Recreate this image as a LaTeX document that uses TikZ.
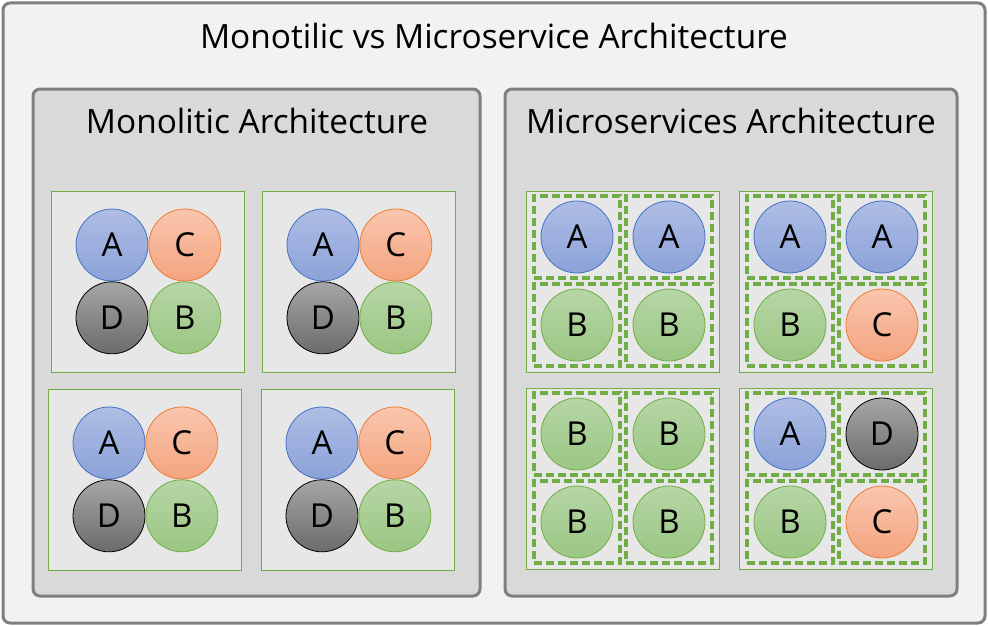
\documentclass[tikz,border=0pt]{standalone}
\usepackage{fontspec}
\setmainfont{Open Sans}
\usetikzlibrary{positioning}

\definecolor{framegray}{HTML}{7F7F7F}
\definecolor{outerfill}{HTML}{F2F2F2}
\definecolor{panelfill}{HTML}{D9D9D9}
\definecolor{hostfill}{HTML}{E7E7E7}
\definecolor{hostgreen}{HTML}{70AD47}
\definecolor{svcAline}{HTML}{4472C4}
\definecolor{svcAtop}{HTML}{AEBDE4}
\definecolor{svcAbot}{HTML}{8BA2D8}
\definecolor{svcBline}{HTML}{70AD47}
\definecolor{svcBtop}{HTML}{B6D6A6}
\definecolor{svcBbot}{HTML}{9BC683}
\definecolor{svcCline}{HTML}{ED7D31}
\definecolor{svcCtop}{HTML}{F9C6AE}
\definecolor{svcCbot}{HTML}{F4A47F}
\definecolor{svcDline}{HTML}{000000}
\definecolor{svcDtop}{HTML}{A6A6A6}
\definecolor{svcDbot}{HTML}{6B6B6B}

\begin{document}
\begin{tikzpicture}[x=1pt, y=-1pt,
    panel/.style={draw=framegray, line width=3pt, rounded corners=7pt, fill=#1},
    heading/.style={font=\fontsize{33.4}{36}\selectfont},
    host/.style={draw=hostgreen, line width=0.8pt, fill=hostfill, anchor=north west,
      minimum width=193pt, minimum height=181pt, inner sep=0pt},
    svc/.style={circle, draw=svc#1line, top color=svc#1top, bottom color=svc#1bot,
      line width=0.8pt, minimum size=72pt, inner sep=0pt, font=\fontsize{33}{33}\selectfont},
    pod/.style={draw=hostgreen, line width=3.2pt, dash pattern=on 8pt off 4pt,
      minimum width=86pt, minimum height=82pt, inner sep=0pt}]
  \useasboundingbox (0,0) rectangle (988,626);

  % Frames
  \draw[panel=outerfill] (3,3) rectangle (985,623);
  \draw[panel=panelfill] (33,89) rectangle (480,596);
  \draw[panel=panelfill] (505,89) rectangle (957,596);

  % Titles
  \node[heading] (title) at (494,36) {Monotilic vs Microservice Architecture};
  \node[heading] (monotitle) at (257,121) {Monolitic Architecture};
  \node[heading] (microtitle) at (731,121) {Microservices Architecture};

  % Monolith: every host runs all services
  \foreach \n/\x/\y in {1/112/245, 2/323/245, 3/109/443, 4/322/443} {
    \node[host] (h\n) at (\x-61,\y-54) {};
    \node[svc=A] (h\n a) at (\x,\y) {A};
    \node[svc=C, right=0pt of h\n a] (h\n c) {C};
    \node[svc=D, below=0pt of h\n a] (h\n d) {D};
    \node[svc=B, right=0pt of h\n d] (h\n b) {B};
  }

  % Microservices: one service per container
  \foreach \n/\x/\y/\p/\q/\r/\s in {5/526/191/A/A/B/B, 6/739/191/A/A/B/C,
      7/526/388/B/B/B/B, 8/739/388/A/D/B/C} {
    \node[host] (h\n) at (\x,\y) {};
    \node[pod] (p\n a) at (\x+51,\y+46) {};
    \node[pod] (p\n b) at (\x+143,\y+46) {};
    \node[pod] (p\n c) at (\x+51,\y+134) {};
    \node[pod] (p\n d) at (\x+143,\y+134) {};
    \node[svc=\p] (s\n a) at (p\n a) {\p};
    \node[svc=\q] (s\n b) at (p\n b) {\q};
    \node[svc=\r] (s\n c) at (p\n c) {\r};
    \node[svc=\s] (s\n d) at (p\n d) {\s};
  }
\end{tikzpicture}
\end{document}
